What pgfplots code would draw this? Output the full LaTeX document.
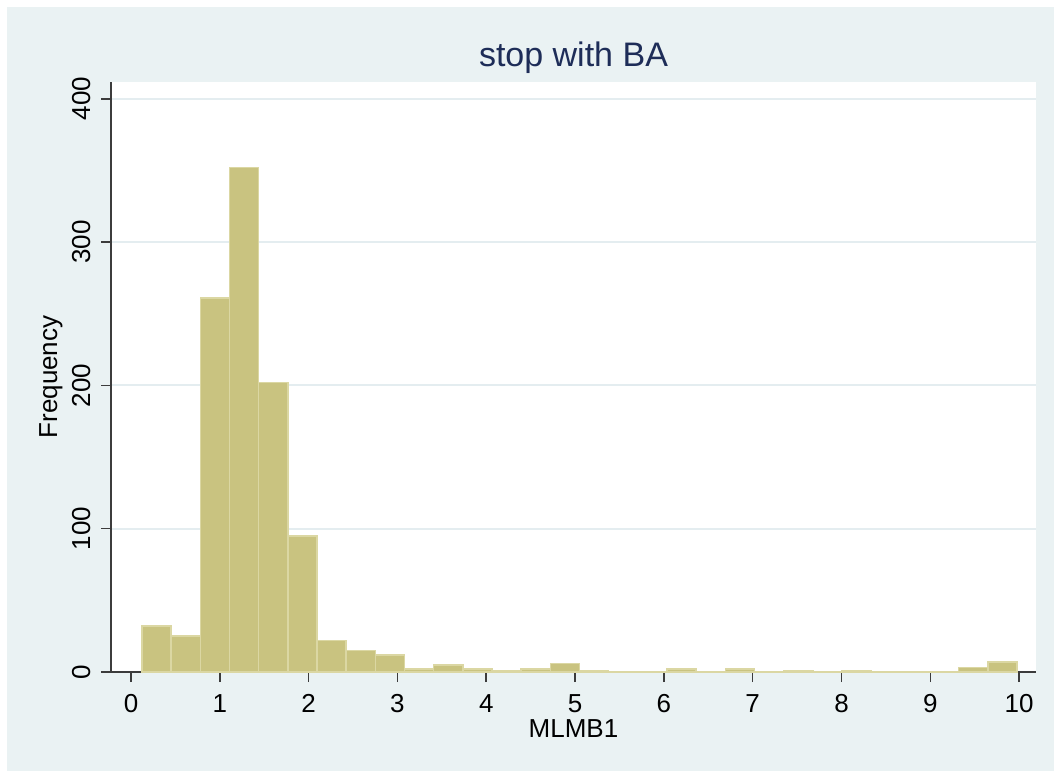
\documentclass[border=0pt]{standalone}
\usepackage{pgfplots}
\pgfplotsset{compat=1.18}
\usepackage{fontspec}
\setmainfont{Liberation Sans}
\definecolor{bgcol}{RGB}{234,242,243}
\definecolor{gridcol}{RGB}{228,237,240}
\definecolor{barfill}{RGB}{201,195,128}
\definecolor{baredge}{RGB}{219,215,163}
\definecolor{titlecol}{RGB}{30,45,88}
\definecolor{axcol}{RGB}{60,60,60}
\begin{document}
\begin{tikzpicture}
\fill[white] (0,0) rectangle (527pt,385.5pt);
\fill[bgcol] (3.5pt,0) rectangle (527pt,382pt);
\begin{axis}[
  at={(55.5pt,49.5pt)}, anchor=south west,
  scale only axis, width=462.5pt, height=295pt,
  xmin=-0.225, xmax=10.19, ymin=0, ymax=411.7,
  axis lines*=left,
  axis line style={draw=axcol, line width=0.75pt},
  axis background/.style={fill=white},
  tick align=outside,
  major tick length=5pt,
  tick style={draw=axcol, line width=0.75pt},
  xtick={0,1,...,10}, ytick={0,100,200,300,400},
  ymajorgrids, grid style={draw=gridcol, line width=1pt},
  /pgf/number format/assume math mode=true,
  ticklabel style={font=\fontsize{13}{15}\selectfont},
  xticklabel style={anchor=base, yshift=-15pt},
  yticklabel style={rotate=90, anchor=base, yshift=5.5pt},
  title={stop with BA},
  title style={at={(0.5,1)}, anchor=base, yshift=1.9pt, text=titlecol, font=\fontsize{17}{19}\selectfont},
  xlabel={MLMB1}, ylabel={Frequency},
  xlabel style={at={(axis description cs:0.5,0)}, anchor=base, yshift=-32.5pt, font=\fontsize{13}{15}\selectfont},
  ylabel style={at={(axis description cs:0,0.5)}, rotate=0, anchor=base, yshift=27pt, font=\fontsize{13}{15}\selectfont},
  clip=false,
]
\addplot[ybar interval, fill=barfill, draw=baredge, line width=0.75pt] coordinates {
(0.124,32) (0.452,25) (0.781,261) (1.109,352) (1.438,202) (1.766,95)
(2.094,22) (2.423,15) (2.751,12) (3.080,2) (3.408,5) (3.736,2)
(4.065,1) (4.393,2) (4.722,6) (5.050,1) (5.378,0) (5.707,0)
(6.035,2) (6.364,0) (6.692,2) (7.020,0) (7.349,1) (7.677,0)
(8.006,1) (8.334,0) (8.662,0) (8.991,0) (9.319,3) (9.648,7)
(9.976,7)
};
\end{axis}
\end{tikzpicture}
\end{document}
